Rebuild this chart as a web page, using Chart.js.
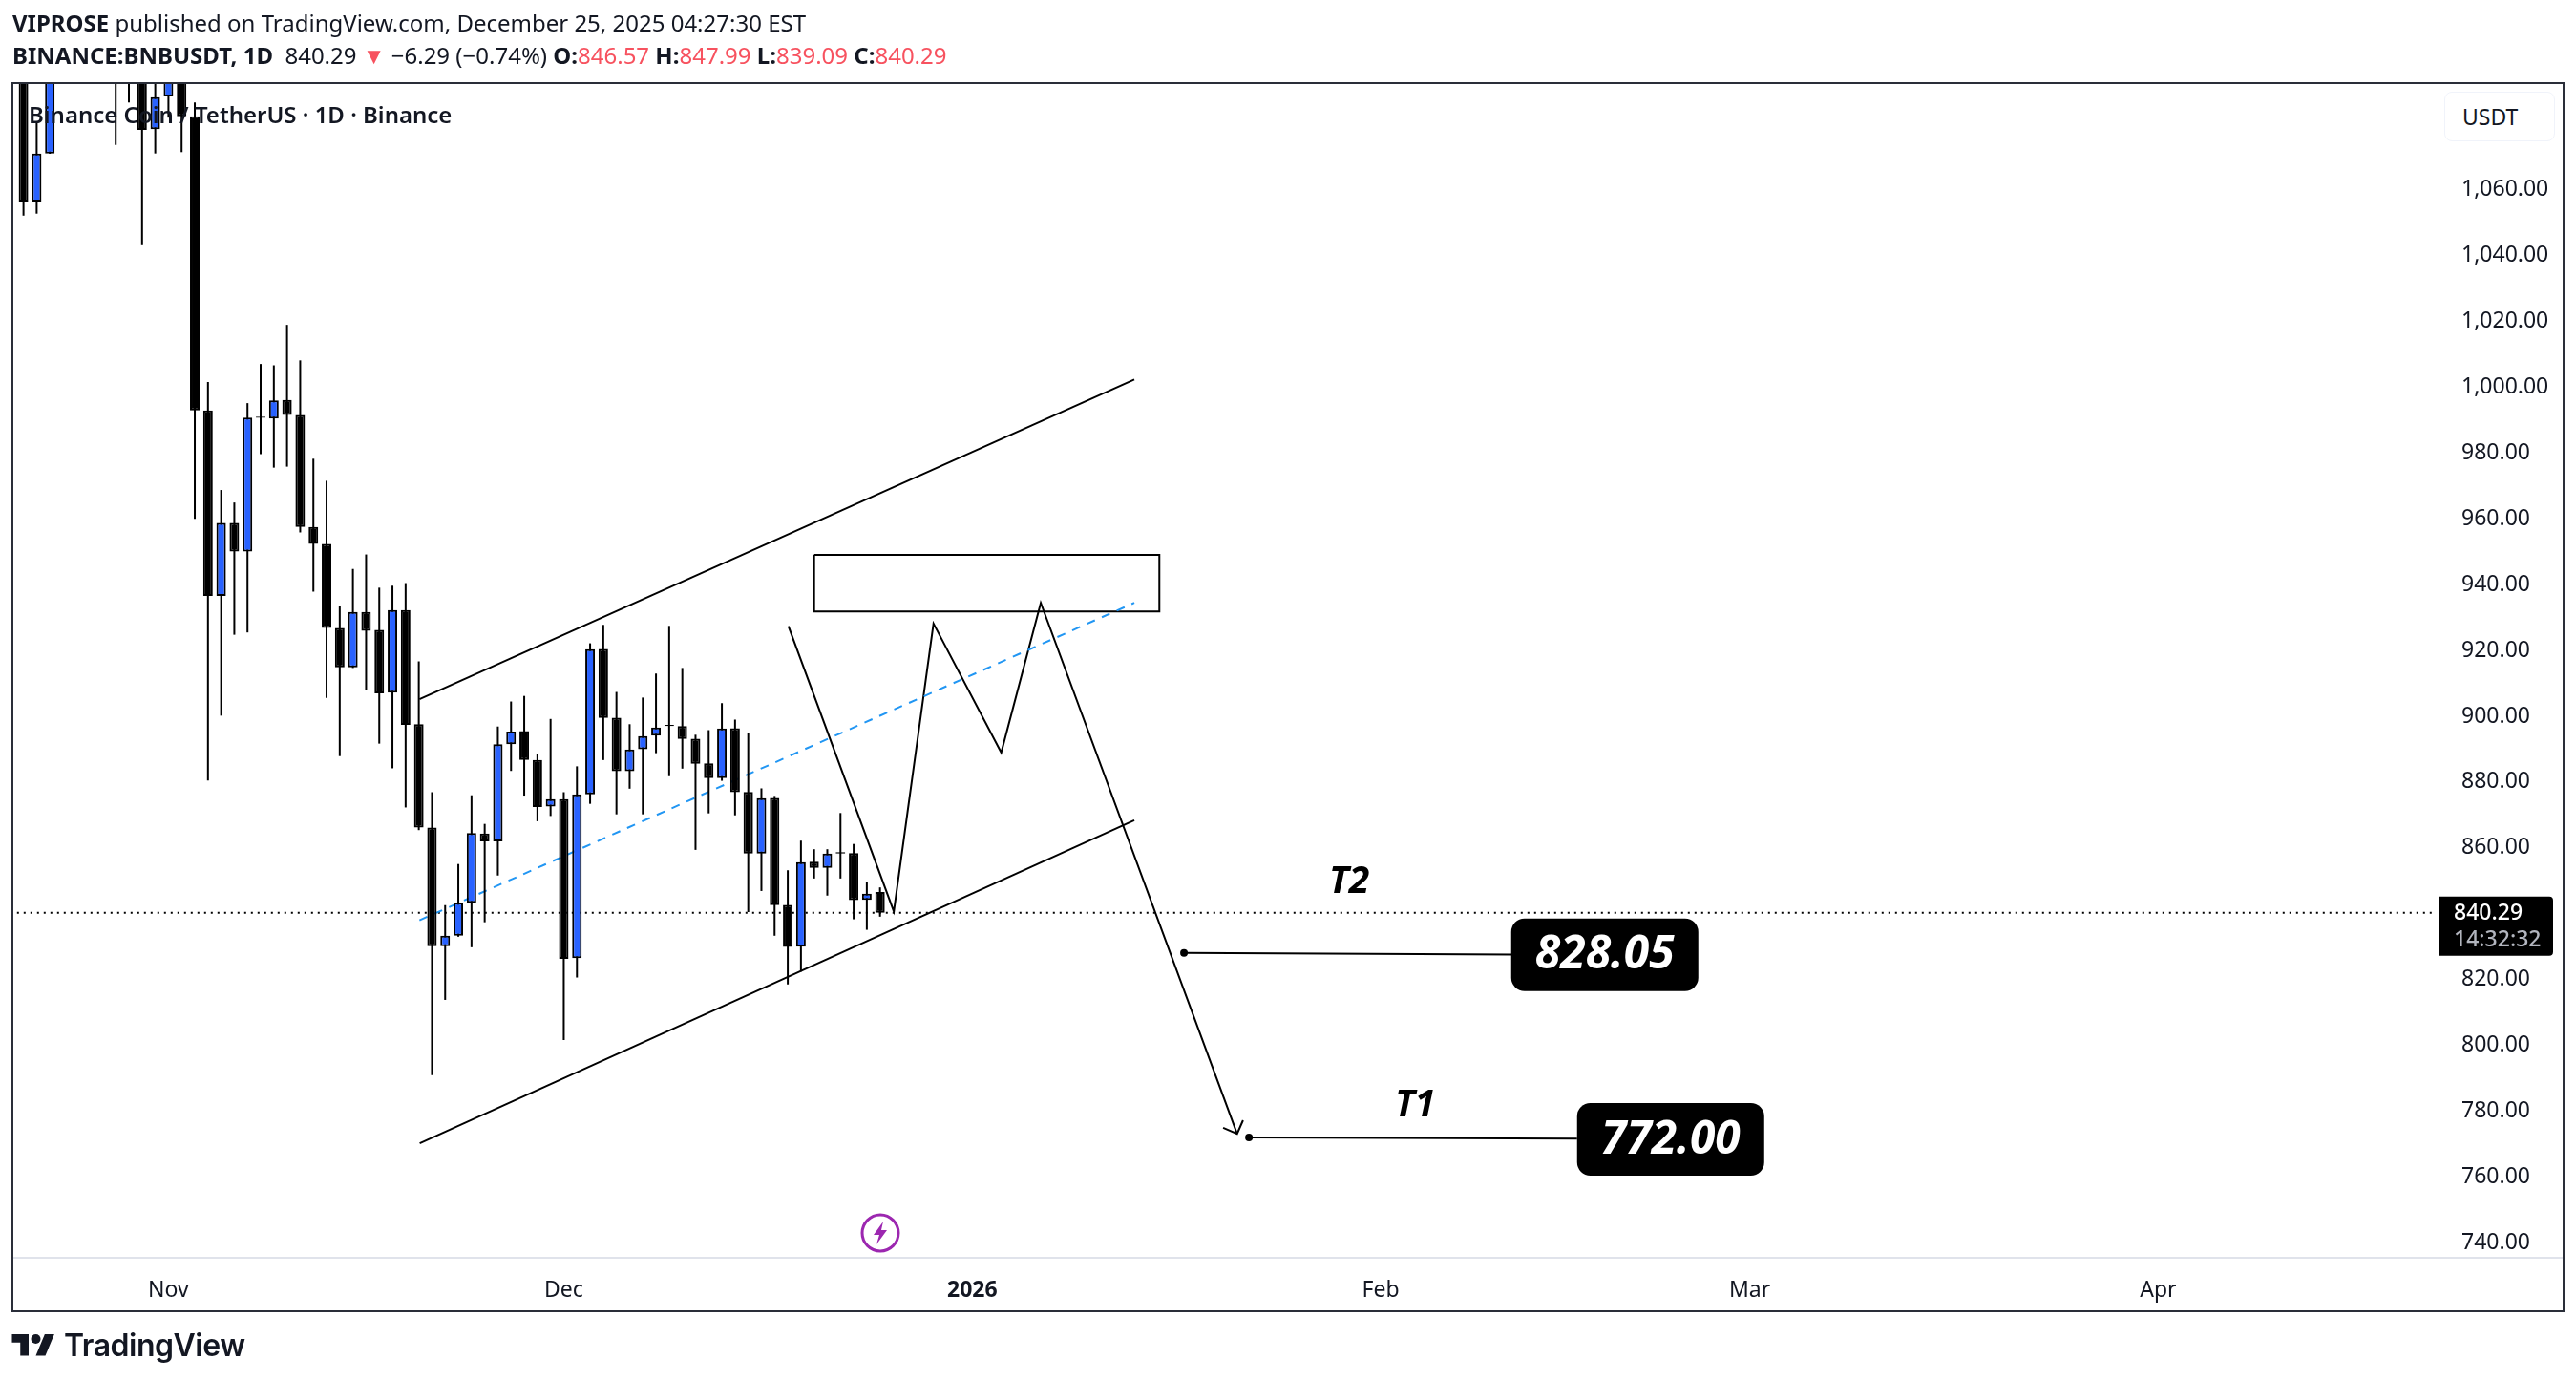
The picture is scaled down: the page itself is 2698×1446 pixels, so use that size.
<!DOCTYPE html>
<html>
<head>
<meta charset="utf-8">
<script src="https://cdn.jsdelivr.net/npm/chart.js@4"></script>
<style>
  html, body { margin: 0; padding: 0; background: #fff; }
  body { width: 2698px; height: 1446px; position: relative; overflow: hidden; font-family: "Noto Sans", sans-serif; color: #131722; }
  canvas { position: absolute; left: 0; top: 0; }
  .txt { position: absolute; white-space: pre; line-height: 34px; font-size: 24px; }
  b { font-weight: 700; }
  .red { color: #F7525F; }
  #frame { position: absolute; left: 12px; top: 86px; width: 2674px; height: 1288px; box-sizing: border-box; border: 2px solid #2A2E39; }
  #usdt { position: absolute; left: 2560px; top: 96px; width: 116px; height: 52px; box-sizing: border-box; border: 1px solid #F0F3FA; border-radius: 8px; font-size: 23px; line-height: 50px; padding-left: 18px; background: #fff; }
  #logoText { position: absolute; left: 67px; top: 1388px; font-family: Inter, sans-serif; font-weight: 600; font-size: 32px; line-height: 42px; letter-spacing: -0.5px; }
</style>
</head>
<body>
<canvas id="chart" width="2698" height="1446"></canvas>
<div id="frame"></div>
<div class="txt" style="left:13px;top:7px"><b>VIPROSE</b> published on TradingView.com, December 25, 2025 04:27:30 EST</div>
<div class="txt" style="left:13px;top:41px"><b>BINANCE:BNBUSDT, 1D</b>  840.29<span class="red"> ▼</span> −6.29 (−0.74%) <b>O:</b><span class="red">846.57</span> <b>H:</b><span class="red">847.99</span> <b>L:</b><span class="red">839.09</span> <b>C:</b><span class="red">840.29</span></div>
<div class="txt" style="left:30px;top:103px;font-weight:600">Binance Coin / TetherUS · 1D · Binance</div>
<div id="usdt">USDT</div>
<svg style="position:absolute;left:901px;top:1270px" width="42" height="42" viewBox="0 0 42 42">
  <circle cx="21" cy="21" r="19" fill="#fff" stroke="#9C27B0" stroke-width="3"/>
  <path d="M24 9 L14 23 H20 L17 33 L28 18 H22 Z" fill="#9C27B0"/>
</svg>
<svg style="position:absolute;left:12px;top:1392px" width="46" height="30" viewBox="0 0 36 24">
  <path d="M14 22H7V11H0V4h14v18zM28 22h-8l7.5-18h8L28 22z" fill="#131722"/>
  <circle cx="20" cy="8" r="4" fill="#131722"/>
</svg>
<div id="logoText">TradingView</div>
<script>
// candles, day 0 = Oct 21 2025 (prices, the ones above the frame are guesses)
const opens = [1100, 1056.5, 1071.1, null, null, null, null, 1105, 1100, 1110, 1078.5, 1088.4, 1100, 1082.4,
  993, 936.6, 958.8, 950.1, 991.1, 990.5, 996.2, 991.6, 957.6, 952.4, 926.9, 914.9, 931.7, 926.3, 907.2, 932.3,
  897.6, 866.2, 830.1, 833.3, 843.3, 864.4, 862, 891.5, 895.5, 886.7, 872.6, 874.8, 826.5, 876.3, 920.5, 899.6,
  883.3, 890, 894.1, 897.4, 897, 893.2, 885.7, 881.2, 896.4, 877, 858.3, 875.2, 842.7, 830, 855.8, 853.9, 858.7,
  858.4, 844.2, 846.57];
const highs = [1110, 1080.8, 1105, null, null, null, null, 1110, 1110, 1115, 1100, 1105, 1110, 1086.6,
  1001.6, 968.8, 965, 995.2, 1007.1, 1006.7, 1019, 1008.2, 978.3, 971.6, 933.5, 944.8, 949.2, 939.1, 939.7, 940.5,
  916.7, 876.9, 842.6, 855.1, 876, 867.3, 896.9, 904.5, 906.2, 888.5, 899.2, 876.9, 884.8, 922.2, 927.8, 907.4,
  897.6, 905.7, 913, 927.5, 914.7, 894.4, 895.8, 904, 899, 895, 878.1, 875.8, 853.2, 862.2, 859.6, 859.6, 870.6,
  861.2, 849.7, 847.99];
const lows = [1052.2, 1052.8, 1071, null, null, null, null, 1073.7, 1086.6, 1043.2, 1071.1, 1082, 1071.5, 960,
  880.5, 900.2, 924.8, 925.5, 979.7, 975.6, 975.9, 955.9, 937.9, 905.6, 887.9, 914.7, 907.9, 891.7, 884.2, 872.3,
  865.4, 790.9, 813.8, 833, 829.8, 837.4, 851.6, 883.4, 875.9, 868.1, 869.7, 801.6, 820.6, 873.4, 886.7, 870.2,
  878, 870.2, 888.8, 881.8, 884.1, 859.4, 870.5, 880.4, 869.9, 840.5, 846.9, 833.3, 818.5, 822.4, 850.7, 845.5, 850.7,
  838.3, 835.1, 839.09];
const closes = [1056.5, 1071.1, 1100, null, null, null, null, 1098, 1096, 1078.3, 1088.2, 1098, 1082.4, 993,
  936.6, 958.8, 950.1, 990.8, 990.7, 996, 991.6, 957.6, 952.4, 926.9, 914.9, 931.7, 926, 907, 932.3, 897.4,
  866.2, 830.1, 833.3, 843.3, 864.5, 862, 891.5, 895.4, 886.7, 872.4, 874.8, 826.3, 876.3, 920.4, 899.5, 883.3,
  889.9, 894, 896.6, 897, 893.1, 885.6, 881.2, 896.3, 876.9, 858.3, 875.1, 842.6, 829.9, 855.7, 853.9, 858.3, 858.3,
  844.1, 846.1, 840.29];

const priceTicks = [740, 760, 780, 800, 820, 840, 860, 880, 900, 920, 940, 960, 980, 1000, 1020, 1040, 1060];
const monthDays = [11, 41, 72, 103, 131, 162];
const monthLabels = ["Nov", "Dec", "2026", "Feb", "Mar", "Apr"];
const lastPrice = 840.29;
const countdown = "14:32:32";

// drawings, as [day, price]
const upperChannel = [[30.05, 905.2], [84.3, 1002.4]];
const lowerChannel = [[30.07, 770.2], [84.3, 868.4]];
const midChannel = [[30.05, 838], [84.3, 934.5]];
const zoneBox = [[60, 949.1], [86.2, 949.1], [86.2, 931.9], [60, 931.9], [60, 949.1]];
const zigzag = [[58.05, 927.4], [66.05, 840.7], [69.06, 928.2], [74.2, 889], [77.2, 934.5], [92.1, 773.1]];
const arrowHead = [[91.04, 774.9], [92.1, 773.1], [92.55, 777.2]];
const t2Line = [[88.07, 828.1], [113, 827.6]];
const t1Line = [[93, 772], [117.9, 771.6]];
const priceLine = [[-1, lastPrice], [182.85, lastPrice]];

const targetNames = ["T2", "T1"];
const targetNameDays = [100.6, 105.6];
const targetNamePrices = [849.5, 781.7];
const targetLabels = ["828.05", "772.00"];
const targetDays = [120, 125];
const targetPrices = [827.5, 771.4];

const BLUE = "#2962FF";
const INK = "#131722";

const toPoints = rows => rows.map(r => ({ x: r[0], y: r[1] }));

const wickData = [];
const bodyData = [];
const bodyColors = [];
opens.forEach((o, i) => {
  if (o === null) return;
  wickData.push({ x: i, y: [lows[i], highs[i]] });
  bodyData.push({ x: i, y: [o, closes[i]] });
  bodyColors.push(closes[i] >= o ? BLUE : "#000000");
});

function lineSet(rows, extra) {
  return Object.assign({
    type: "line",
    data: toPoints(rows),
    borderColor: "#000000",
    borderWidth: 2,
    pointRadius: 0,
    tension: 0,
    clip: 0,
    order: 2
  }, extra);
}

// the first point carries the little dot of the target lines
const dotFirst = { pointRadius: ctx => (ctx.dataIndex === 0 ? 4 : 0), pointBackgroundColor: "#000000", pointBorderWidth: 0 };

function roundBox(ctx, x, y, w, h, r) {
  ctx.beginPath();
  ctx.roundRect(x, y, w, h, r);
  ctx.fill();
}

const overlays = {
  id: "overlays",
  afterDraw(chart) {
    const { ctx, scales: { x, y }, chartArea } = chart;
    ctx.save();

    // rest of the time axis line, under the price scale
    ctx.fillStyle = "#E0E3EB";
    ctx.fillRect(chartArea.right + 2, chartArea.bottom - 1, 2684 - chartArea.right - 2, 2);

    ctx.textAlign = "center";
    ctx.textBaseline = "middle";
    targetNames.forEach((name, i) => {
      ctx.fillStyle = "#000000";
      ctx.font = "italic 700 39px 'Noto Sans'";
      ctx.fillText(name, x.getPixelForValue(targetNameDays[i]), y.getPixelForValue(targetNamePrices[i]));
    });
    targetLabels.forEach((label, i) => {
      const cx = x.getPixelForValue(targetDays[i]);
      const cy = y.getPixelForValue(targetPrices[i]);
      ctx.fillStyle = "#000000";
      roundBox(ctx, cx - 98, cy - 38, 196, 76, 14);
      ctx.fillStyle = "#FFFFFF";
      ctx.font = "italic 700 48px 'Noto Sans'";
      ctx.fillText(label, cx, cy + 1);
    });

    // last price tag
    const tagY = y.getPixelForValue(lastPrice);
    ctx.fillStyle = "#000000";
    ctx.beginPath();
    ctx.roundRect(chartArea.right + 1, tagY - 17, 120, 62, [0, 4, 4, 0]);
    ctx.fill();
    ctx.textAlign = "left";
    ctx.font = "500 23px 'Noto Sans'";
    ctx.fillStyle = "#FFFFFF";
    ctx.fillText(lastPrice.toFixed(2), 2570, tagY + 1);
    ctx.fillStyle = "#B2B5BE";
    ctx.fillText(countdown, 2570, tagY + 29);
    ctx.restore();
  }
};

new Chart(document.getElementById("chart"), {
  type: "bar",
  data: {
    datasets: [
      { data: bodyData, backgroundColor: bodyColors, borderColor: "#000000", borderWidth: 2, borderSkipped: false,
        barThickness: 10, grouped: false, clip: 0, order: 0, inflateAmount: 0 },
      { data: wickData, backgroundColor: "#000000", borderWidth: 0, barThickness: 2,
        grouped: false, clip: 0, order: 1, inflateAmount: 0 },
      lineSet(upperChannel),
      lineSet(lowerChannel),
      lineSet(midChannel, { borderColor: "#2196F3", borderDash: [9, 8] }),
      lineSet(zoneBox),
      lineSet(zigzag),
      lineSet(arrowHead),
      lineSet(t2Line, dotFirst),
      lineSet(t1Line, dotFirst),
      lineSet(priceLine, { borderDash: [2, 5] })
    ]
  },
  options: {
    responsive: false,
    animation: false,
    devicePixelRatio: 1,
    events: [],
    layout: { padding: { left: 14, top: 88, right: 14, bottom: 74 } },
    plugins: { legend: { display: false }, tooltip: { enabled: false } },
    scales: {
      x: {
        type: "linear",
        offset: false,
        min: -0.768,
        max: 183.2,
        grid: { display: false },
        border: { display: true, color: "#E0E3EB", width: 2 },
        afterBuildTicks: scale => { scale.ticks = monthDays.map(v => ({ value: v })); },
        afterFit: scale => { scale.height = 55; },
        ticks: {
          autoSkip: false,
          maxRotation: 0,
          padding: 13,
          color: INK,
          font: ctx => ({ family: "Noto Sans", size: 23, weight: ctx.tick && monthLabels[monthDays.indexOf(ctx.tick.value)] === "2026" ? 700 : 400 }),
          callback: v => monthLabels[monthDays.indexOf(v)]
        }
      },
      y: {
        type: "linear",
        position: "right",
        min: 735.4,
        max: 1092.2,
        grid: { display: false },
        border: { display: false },
        afterBuildTicks: scale => { scale.ticks = priceTicks.filter(v => v !== 840).map(v => ({ value: v })); },
        afterFit: scale => { scale.width = 131; },
        ticks: {
          autoSkip: false,
          padding: 17,
          crossAlign: "near",
          color: INK,
          font: { family: "Noto Sans", size: 23 },
          callback: v => v.toLocaleString("en-US", { minimumFractionDigits: 2, maximumFractionDigits: 2 })
        }
      }
    }
  },
  plugins: [overlays]
});
</script>
</body>
</html>
